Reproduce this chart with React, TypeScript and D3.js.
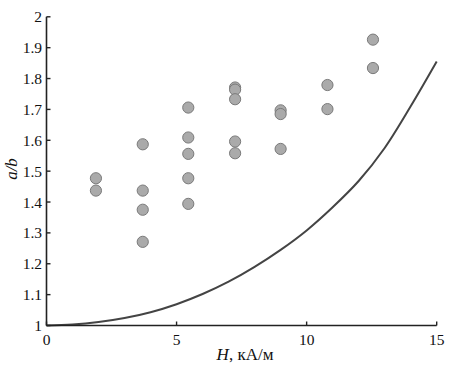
import React from 'react';
import * as d3 from 'd3';

// measured points: field H (kA/m) and a/b ratio
const pointH = [
  1.9, 1.9,
  3.7, 3.7, 3.7, 3.7,
  5.45, 5.45, 5.45, 5.45, 5.45,
  7.25, 7.25, 7.25, 7.25, 7.25,
  9.0, 9.0, 9.0,
  10.8, 10.8,
  12.55, 12.55,
];
const pointRatio = [
  1.477, 1.437,
  1.587, 1.437, 1.375, 1.271,
  1.706, 1.609, 1.556, 1.477, 1.394,
  1.771, 1.764, 1.733, 1.596, 1.558,
  1.697, 1.685, 1.572,
  1.779, 1.701,
  1.926, 1.834,
];

// theoretical curve
const curveH = [0, 1, 2, 3, 4, 5, 6, 7, 8, 9, 10, 11, 12, 13, 14, 15];
const curveRatio = [1.0, 1.003, 1.011, 1.024, 1.043, 1.069, 1.102, 1.142, 1.19, 1.245, 1.308, 1.383, 1.468, 1.575, 1.71, 1.855];

const xTicks = [0, 5, 10, 15];
const yTicks = [1, 1.1, 1.2, 1.3, 1.4, 1.5, 1.6, 1.7, 1.8, 1.9, 2];

const W = 455;
const H = 369;
const font = '"Liberation Serif", "Times New Roman", serif';

export default function App() {
  const x = d3.scaleLinear().domain([0, 15]).range([46.5, 436.7]);
  const y = d3.scaleLinear().domain([1, 2]).range([325.5, 16.8]);

  const line = d3.line<number>()
    .x((d, i) => x(curveH[i]))
    .y(d => y(d))
    .curve(d3.curveCatmullRom);

  const axisColor = '#222';

  return (
    <svg width={W} height={H} style={{ position: 'absolute', left: 0, top: 0 }}>
      <rect width={W} height={H} fill="#fff" />
      {pointH.map((h, i) => (
        <circle key={i} cx={x(h)} cy={y(pointRatio[i])} r={5.6} fill="#aaaaaa" stroke="#7a7a7a" strokeWidth={1} />
      ))}
      <path d={line(curveRatio) || ''} fill="none" stroke="#444" strokeWidth={2} />

      {/* axes */}
      <line x1={x(0)} x2={x(15)} y1={y(1)} y2={y(1)} stroke={axisColor} strokeWidth={1.6} />
      <line x1={x(0)} x2={x(0)} y1={y(1)} y2={y(2)} stroke={axisColor} strokeWidth={1.6} />

      {xTicks.map(t => (
        <g key={t}>
          <line x1={x(t)} x2={x(t)} y1={y(1)} y2={y(1) - 4} stroke={axisColor} strokeWidth={1.4} />
          <text x={x(t)} y={344.5} textAnchor="middle" fontFamily={font} fontSize={15.5} fill="#111">{t}</text>
        </g>
      ))}
      {yTicks.map(t => (
        <g key={t}>
          <line x1={x(0)} x2={x(0) + 4} y1={y(t)} y2={y(t)} stroke={axisColor} strokeWidth={1.4} />
          <text x={42} y={y(t) + 5.5} textAnchor="end" fontFamily={font} fontSize={15.5} fill="#111">{d3.format('~g')(t)}</text>
        </g>
      ))}

      <text x={245} y={360} textAnchor="middle" fontFamily={font} fontSize={17} fill="#111">
        <tspan fontStyle="italic">H</tspan>, кА/м
      </text>
      <text transform="translate(17,169) rotate(-90)" textAnchor="middle" fontFamily={font} fontSize={17} fontStyle="italic" fill="#111">a/b</text>
    </svg>
  );
}
